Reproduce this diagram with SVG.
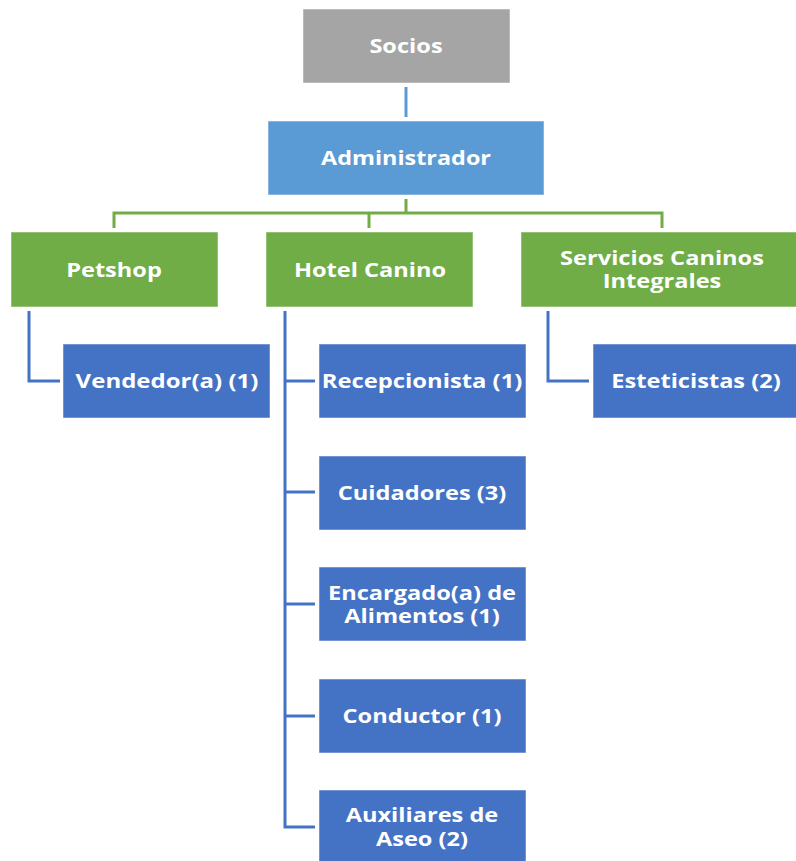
<svg xmlns="http://www.w3.org/2000/svg" width="796" height="861" viewBox="0 0 796 861">
<style>
.box{stroke:#ffffff;stroke-opacity:0.5;stroke-width:1}
.gray{fill:#A5A5A5}
.lblue{fill:#5B9BD5}
.green{fill:#70AD47}
.blue{fill:#4472C4}
text{font-family:"Open Sans","Liberation Sans",sans-serif;font-weight:bold;font-size:20px;fill:#ffffff;text-anchor:middle}
.c{fill:none;stroke-width:3}
</style>
<rect width="796" height="861" fill="#ffffff"/>
<g id="connectors">
<path class="c" stroke="#5B9BD5" d="M406,87 V117"/>
<path class="c" stroke="#70AD47" d="M406,199 V213 M114,228 V213 H662 V228 M369,213 V228"/>
<path class="c" stroke="#4472C4" d="M29,311 V381 H60"/>
<path class="c" stroke="#4472C4" d="M285,311 V827 H315 M285,381 H315 M285,492 H315 M285,604 H315 M285,716 H315"/>
<path class="c" stroke="#4472C4" d="M548,311 V381 H589"/>
</g>
<g id="socios"><rect class="box gray" x="303" y="9" width="207" height="74"/><text transform="translate(406,53) scale(1.18,1)">Socios</text></g>
<g id="administrador"><rect class="box lblue" x="268" y="121" width="276" height="74"/><text transform="translate(406,165) scale(1.17,1)">Administrador</text></g>
<g id="petshop"><rect class="box green" x="11" y="232" width="207" height="75"/><text transform="translate(114,277) scale(1.18,1)">Petshop</text></g>
<g id="hotel"><rect class="box green" x="266" y="232" width="207" height="75"/><text transform="translate(370,277) scale(1.18,1)">Hotel Canino</text></g>
<g id="servicios"><rect class="box green" x="521" y="232" width="282" height="75"/><text transform="translate(662,0) scale(1.18,1)"><tspan x="0" y="265">Servicios Caninos</tspan><tspan x="0" y="288">Integrales</tspan></text></g>
<g id="vendedor"><rect class="box blue" x="63" y="344" width="207" height="74"/><text transform="translate(167,388) scale(1.2,1)">Vendedor(a) (1)</text></g>
<g id="recepcionista"><rect class="box blue" x="319" y="344" width="207" height="74"/><text transform="translate(422,388) scale(1.19,1)">Recepcionista (1)</text></g>
<g id="esteticistas"><rect class="box blue" x="593" y="344" width="207" height="74"/><text transform="translate(696,388) scale(1.18,1)">Esteticistas (2)</text></g>
<g id="cuidadores"><rect class="box blue" x="319" y="456" width="207" height="74"/><text transform="translate(422,500) scale(1.18,1)">Cuidadores (3)</text></g>
<g id="encargado"><rect class="box blue" x="319" y="567" width="207" height="74"/><text transform="translate(422,0) scale(1.18,1)"><tspan x="0" y="600">Encargado(a) de</tspan><tspan x="0" y="623">Alimentos (1)</tspan></text></g>
<g id="conductor"><rect class="box blue" x="319" y="679" width="207" height="74"/><text transform="translate(422,723) scale(1.18,1)">Conductor (1)</text></g>
<g id="auxiliares"><rect class="box blue" x="319" y="790" width="207" height="74"/><text transform="translate(422,0) scale(1.18,1)"><tspan x="0" y="822">Auxiliares de</tspan><tspan x="0" y="846">Aseo (2)</tspan></text></g>
</svg>
